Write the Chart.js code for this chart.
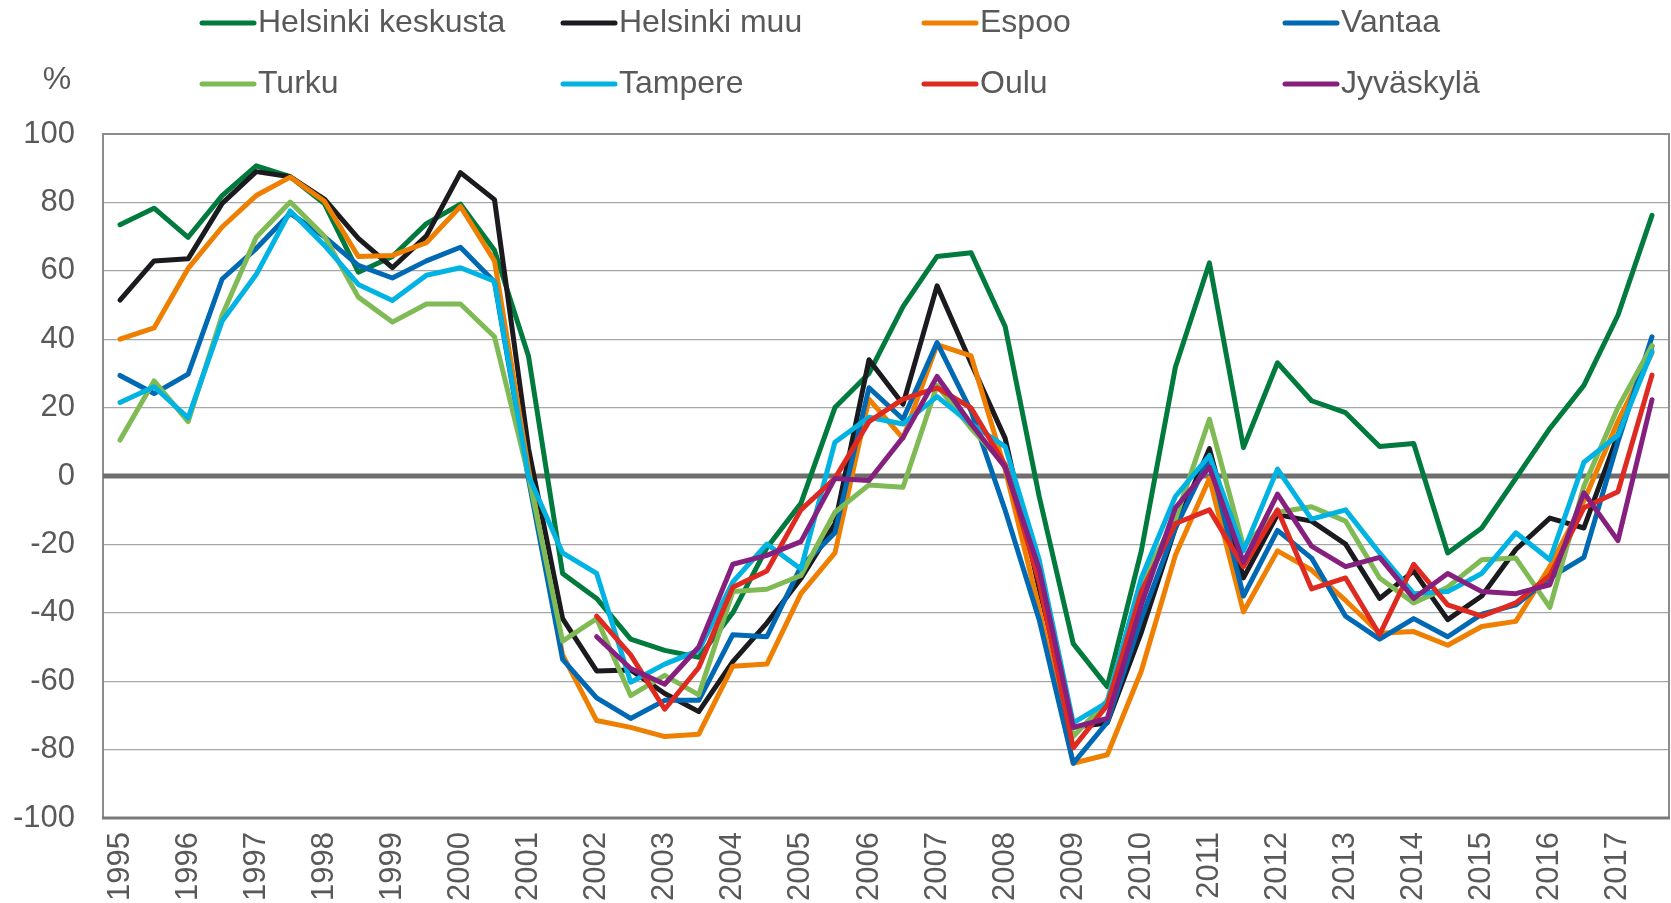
<!DOCTYPE html>
<html>
<head>
<meta charset="utf-8">
<script src="https://cdn.jsdelivr.net/npm/chart.js@4/dist/chart.umd.min.js"></script>
<style>
  html, body { margin: 0; padding: 0; background: #ffffff; }
  canvas { display: block; }
</style>
</head>
<body>
<canvas id="c" width="1671" height="903"></canvas>
<script>
const periods = [
  '1995 I','1995 II','1996 I','1996 II','1997 I','1997 II','1998 I','1998 II',
  '1999 I','1999 II','2000 I','2000 II','2001 I','2001 II','2002 I','2002 II',
  '2003 I','2003 II','2004 I','2004 II','2005 I','2005 II','2006 I','2006 II',
  '2007 I','2007 II','2008 I','2008 II','2009 I','2009 II','2010 I','2010 II',
  '2011 I','2011 II','2012 I','2012 II','2013 I','2013 II','2014 I','2014 II',
  '2015 I','2015 II','2016 I','2016 II','2017 I','2017 II'
];
const yearLabels = ['1995','1996','1997','1998','1999','2000','2001','2002','2003','2004','2005','2006',
  '2007','2008','2009','2010','2011','2012','2013','2014','2015','2016','2017'];
const yTicks = [100, 80, 60, 40, 20, 0, -20, -40, -60, -80, -100];

const seriesNames = ['Helsinki keskusta','Helsinki muu','Espoo','Vantaa','Turku','Tampere','Oulu','Jyväskylä'];

const helsinkiKeskusta = [73.5, 78.3, 69.8, 82, 90.7, 87.5, 79.7, 59.6, 64.2, 73.8, 79.5, 66, 35, -28.5, -35.8, -47.7, -51, -53, -40, -21, -8, 20, 30, 49.5, 64.2, 65.3, 43.7, -6, -49, -61.6, -21.9, 31.8, 62.3, 8.3, 33.1, 22, 18.5, 8.6, 9.5, -22.5, -15.2, -0.7, 13.9, 26.5, 47, 76.2];
const helsinkiMuu = [51.4, 62.9, 63.5, 79.7, 89, 87.5, 81, 69.5, 60.9, 70.2, 88.7, 80.8, 8, -41.7, -57, -56.7, -63.6, -68.9, -54.3, -43, -30, -14, 34, 21, 55.6, 33, 11, -33, -73.5, -72.2, -45.7, -15.2, 8, -29.8, -11.3, -13.2, -19.9, -35.8, -27.8, -42, -35.1, -21.5, -12.3, -15.2, 12, 38];
const espoo = [40, 43.3, 60.7, 72.8, 82, 87.4, 80.4, 64.2, 64.5, 68.2, 78.8, 62.9, 2, -52.3, -71.5, -73.5, -76.2, -75.5, -55.6, -55, -34.4, -22.5, 22.5, 11, 38.4, 35.1, 2, -39, -84, -81.5, -57, -23.2, -0.7, -39.7, -21.9, -27.5, -36.4, -46, -45.5, -49.5, -44, -42.5, -26.5, -7.3, 16, 36];
const vantaa = [29.4, 24.1, 29.8, 57.6, 66.5, 76.8, 70, 61.6, 57.9, 62.9, 66.9, 56.7, -1, -53.6, -64.9, -70.9, -65.6, -65.6, -46.4, -47, -26.5, -16.6, 25.8, 16.6, 39, 19, -10, -42, -84, -72, -41.7, -15.2, 5.3, -35.1, -15.9, -24, -41, -47.7, -41.7, -47, -40.4, -37.7, -29.8, -23.8, 10, 40.7];
const turku = [10.5, 27.8, 15.9, 47, 69.8, 80.1, 70.2, 52.3, 45, 50.3, 50.3, 40.7, 0, -48.3, -41.7, -64.2, -58.3, -64, -33.8, -33.1, -29.1, -10.6, -2.6, -3.3, 26.5, 13.9, 3.3, -28.5, -76.2, -65.6, -31, -12.6, 16.6, -20.5, -10.6, -9, -13.2, -29.8, -37.1, -32.5, -24.5, -24, -38.4, -3, 20, 38.1];
const tampere = [21.5, 26.1, 17, 45.3, 58.9, 77.5, 67.5, 56, 51.3, 58.7, 60.9, 57, 0, -22.5, -28.5, -60.3, -55, -51, -31, -19.9, -27.2, 9.9, 17.2, 15.2, 23.2, 15.2, 8.6, -24.5, -72.2, -66.2, -29.8, -6, 6, -21.9, 2, -12.6, -9.9, -22.5, -34.4, -33.8, -28.5, -16.6, -24.5, 4, 11.9, 36.4];
const oulu = [null, null, null, null, null, null, null, null, null, null, null, null, null, null,
  -41, -52.3, -68.2, -56, -32.5, -27.8, -9.9, -0.7, 15.9, 22.5, 25.8, 19.9, 3.3, -31, -79.5, -67, -33.8, -13.9, -9.9, -26.5, -9.9, -33, -29.8, -46.4, -25.8, -37.7, -41, -37.1, -29.1, -9.3, -4.6, 29.5];
const jyvaskyla = [null, null, null, null, null, null, null, null, null, null, null, null, null, null,
  -47, -56.3, -60.9, -50, -25.8, -23.2, -19.2, -0.7, -1.3, 11.3, 29.1, 15.2, 2.6, -27.2, -73.5, -70.9, -37.7, -9.3, 2.6, -25.2, -5.3, -20.5, -26.5, -23.8, -35.8, -28.5, -33.8, -34.4, -31.8, -4.9, -18.9, 22.3];

const seriesValues = [helsinkiKeskusta, helsinkiMuu, espoo, vantaa, turku, tampere, oulu, jyvaskyla];
const seriesColors = ['#007A3D', '#1B1B1F', '#EE7F00', '#0069B4', '#7FBA55', '#00B3E3', '#DE2A21', '#86207F'];

const FONT = "'Liberation Sans', Arial, sans-serif";
const TEXT = '#595959';

const datasets = seriesNames.map((name, i) => ({
  label: name,
  data: seriesValues[i],
  borderColor: seriesColors[i],
  backgroundColor: seriesColors[i],
  borderWidth: 5,
  pointRadius: 0,
  tension: 0,
  fill: false,
  spanGaps: false,
  borderJoinStyle: 'round',
  borderCapStyle: 'round',
  order: seriesNames.length - i
}));

const framePlugin = {
  id: 'frame',
  beforeDatasetsDraw(chart) {
    const { ctx, chartArea: a } = chart;
    ctx.save();
    ctx.strokeStyle = '#8c8c8c';
    ctx.lineWidth = 2;
    ctx.beginPath();
    ctx.moveTo(a.left, a.bottom);
    ctx.lineTo(a.left, a.top);
    ctx.lineTo(a.right, a.top);
    ctx.lineTo(a.right, a.bottom);
    ctx.stroke();
    ctx.strokeStyle = '#7a7a7a';
    ctx.lineWidth = 3;
    ctx.beginPath();
    ctx.moveTo(a.left - 1, a.bottom);
    ctx.lineTo(a.right + 1, a.bottom);
    ctx.stroke();
    const y0 = chart.scales.y.getPixelForValue(0);
    ctx.strokeStyle = '#6e6e6e';
    ctx.lineWidth = 5;
    ctx.beginPath();
    ctx.moveTo(a.left, y0);
    ctx.lineTo(a.right, y0);
    ctx.stroke();
    ctx.restore();
  }
};

const legendPlugin = {
  id: 'customLegend',
  afterDraw(chart) {
    const ctx = chart.ctx;
    ctx.save();
    ctx.font = '32px ' + FONT;
    ctx.textBaseline = 'middle';
    ctx.textAlign = 'left';
    const colX = [200, 561, 922, 1283];
    const rowY = [23, 84];
    chart.data.datasets.forEach((ds, i) => {
      const x = colX[i % 4];
      const y = rowY[Math.floor(i / 4)];
      ctx.strokeStyle = ds.borderColor;
      ctx.lineWidth = 5;
      ctx.lineCap = 'round';
      ctx.beginPath();
      ctx.moveTo(x + 2, y);
      ctx.lineTo(x + 54, y);
      ctx.stroke();
      ctx.fillStyle = TEXT;
      ctx.fillText(ds.label, x + 58, y);
    });
    ctx.fillStyle = TEXT;
    ctx.textAlign = 'center';
    ctx.fillText('%', 57, 80);
    ctx.restore();
  }
};

new Chart(document.getElementById('c'), {
  type: 'line',
  data: { labels: periods, datasets },
  options: {
    responsive: false,
    devicePixelRatio: 1,
    animation: false,
    layout: { padding: { left: 0, right: 2, top: 134, bottom: 0 } },
    plugins: { legend: { display: false }, tooltip: { enabled: false } },
    scales: {
      x: {
        type: 'category',
        offset: true,
        grid: { display: false, drawTicks: false },
        border: { display: false },
        ticks: {
          autoSkip: false,
          minRotation: 90,
          maxRotation: 90,
          padding: 14,
          color: TEXT,
          font: { family: FONT, size: 31 },
          callback: (v, i) => (i % 2 === 0 ? yearLabels[i / 2] : '')
        },
        afterFit: (s) => { s.height = 85; s.paddingLeft = 0; s.paddingRight = 0; }
      },
      y: {
        min: -100,
        max: 100,
        afterBuildTicks: (s) => { s.ticks = yTicks.map(v => ({ value: v })); },
        grid: {
          drawTicks: false,
          color: (c) => (c.tick && c.tick.value === 0 ? 'rgba(0,0,0,0)' : '#a6a6a6'),
          lineWidth: 1.2
        },
        border: { display: false },
        ticks: {
          padding: 28,
          color: TEXT,
          font: { family: FONT, size: 31 },
          callback: (v) => String(v)
        },
        afterFit: (s) => { s.width = 103; s.paddingTop = 0; s.paddingBottom = 0; }
      }
    }
  },
  plugins: [framePlugin, legendPlugin]
});
</script>
</body>
</html>
